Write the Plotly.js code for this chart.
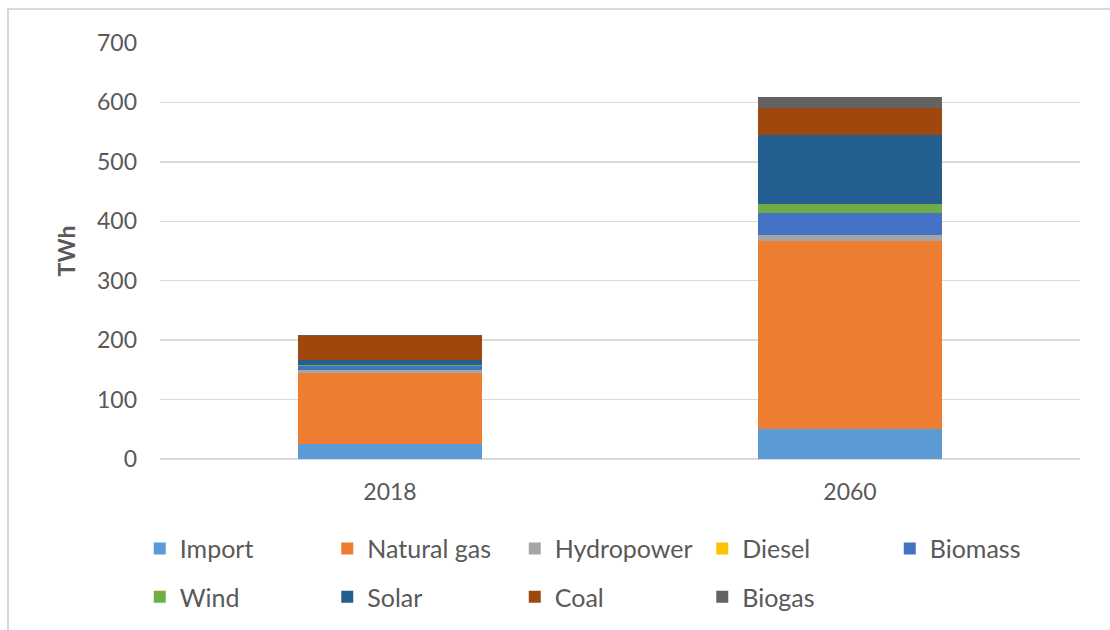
<!DOCTYPE html>
<html>
<head>
<meta charset="utf-8">
<script src="https://cdn.plot.ly/plotly-3.0.1.min.js"></script>
<style>
  html, body { margin: 0; padding: 0; background: #fff; }
  #wrap { position: relative; width: 1110px; height: 630px; overflow: hidden; }
  #chart { width: 1110px; height: 630px; }
  #frame { position: absolute; left: 7px; top: 8px; width: 1200px; height: 700px;
           border-top: 2px solid #d9d9d9; border-left: 2px solid #d9d9d9; pointer-events: none; }
</style>
</head>
<body>
<div id="wrap"><div id="chart"></div><div id="frame"></div></div>
<script>
const years = ['2018', '2060'];
const sources = ['Import', 'Natural gas', 'Hydropower', 'Diesel', 'Biomass', 'Wind', 'Solar', 'Coal', 'Biogas'];
const colors = ['#5B9BD5', '#ED7D31', '#A5A5A5', '#FFC000', '#4472C4', '#70AD47', '#255E91', '#9E480E', '#636363'];
const importTWh     = [25, 50.5];
const naturalGasTWh = [119, 316.5];
const hydropowerTWh = [6, 9.5];
const dieselTWh     = [0, 0];
const biomassTWh    = [7, 37];
const windTWh       = [1.5, 16];
const solarTWh      = [8, 116];
const coalTWh       = [40.5, 45.5];
const biogasTWh     = [1, 18];
const yTicks = [0, 100, 200, 300, 400, 500, 600, 700];

const seriesValues = [importTWh, naturalGasTWh, hydropowerTWh, dieselTWh, biomassTWh, windTWh, solarTWh, coalTWh, biogasTWh];
const FONT = 'Lato, "Open Sans", sans-serif';
const TXT = '#595959';

const traces = sources.map((name, i) => ({
  type: 'bar',
  name: name,
  x: years,
  y: seriesValues[i],
  marker: { color: colors[i], line: { width: 0 } },
  legend: i < 5 ? 'legend' : 'legend2',
  hoverinfo: 'name+y'
}));

const legendBase = {
  orientation: 'h',
  xanchor: 'left',
  yanchor: 'middle',
  entrywidth: 142.5,
  entrywidthmode: 'pixels',
  traceorder: 'normal',
  font: { family: FONT, size: 25, color: TXT },
  bgcolor: 'rgba(0,0,0,0)',
  itemclick: false
};

const layout = {
  width: 1110,
  height: 630,
  margin: { l: 160, r: 30, t: 43, b: 171, autoexpand: false },
  paper_bgcolor: '#ffffff',
  plot_bgcolor: '#ffffff',
  barmode: 'stack',
  bargap: 0.6,
  font: { family: FONT, size: 23, color: TXT },
  showlegend: true,
  xaxis: {
    type: 'category',
    showgrid: false,
    zeroline: false,
    showline: false,
    ticks: '',
    tickfont: { family: FONT, size: 23, color: TXT },
    ticklabelstandoff: 17
  },
  yaxis: {
    range: [0, 700],
    tickvals: yTicks,
    ticktext: yTicks.map(String),
    showgrid: true,
    gridcolor: '#d9d9d9',
    gridwidth: 1.5,
    zeroline: true,
    zerolinecolor: '#d9d9d9',
    zerolinewidth: 1.5,
    showline: false,
    ticks: '',
    ticklabelstandoff: 22,
    tickfont: { family: FONT, size: 23, color: TXT },
    title: { text: '<b>TWh</b>', font: { family: FONT, size: 23, color: TXT }, standoff: 14 }
  },
  legend: Object.assign({}, legendBase, { x: -0.022, y: -0.216 }),
  legend2: Object.assign({}, legendBase, { x: -0.022, y: -0.332 })
};

Plotly.newPlot('chart', traces, layout, { displayModeBar: false, staticPlot: true });
</script>
</body>
</html>
